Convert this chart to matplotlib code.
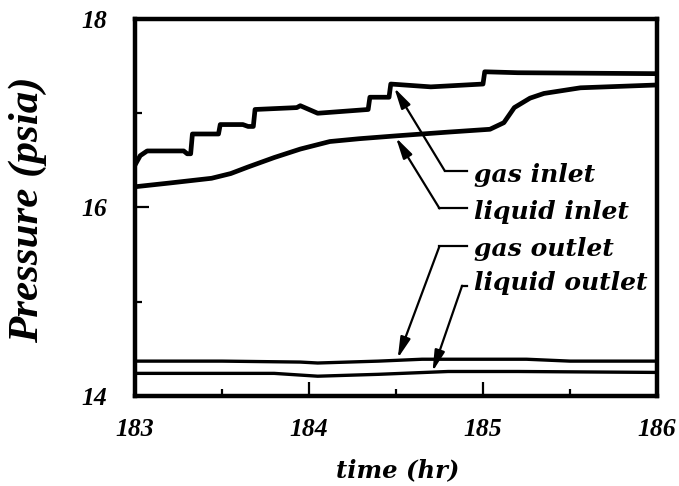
import numpy as np
import matplotlib
matplotlib.use("Agg")
import matplotlib.pyplot as plt
from matplotlib.ticker import MultipleLocator

# readings from the reference picture (time in hr, pressure in psia)
gas_in_t = [183.00, 183.03, 183.07, 183.28, 183.30, 183.32, 183.33, 183.48, 183.49, 183.62,
            183.65, 183.68, 183.69, 183.93, 183.95, 184.05, 184.34, 184.35, 184.46, 184.47,
            184.70, 185.00, 185.01, 185.20, 186.00]
gas_in_p = [16.45, 16.55, 16.60, 16.60, 16.57, 16.57, 16.78, 16.78, 16.88, 16.88,
            16.86, 16.86, 17.04, 17.06, 17.08, 17.00, 17.04, 17.17, 17.17, 17.31,
            17.28, 17.31, 17.44, 17.43, 17.42]

liq_in_t = [183.00, 183.20, 183.44, 183.55, 183.65, 183.80, 183.95, 184.12, 184.29, 184.50,
            184.80, 185.04, 185.12, 185.18, 185.27, 185.35, 185.56, 186.00]
liq_in_p = [16.22, 16.26, 16.31, 16.36, 16.43, 16.53, 16.62, 16.70, 16.73, 16.76,
            16.80, 16.83, 16.90, 17.06, 17.16, 17.21, 17.27, 17.30]

gas_out_t = [183.00, 183.50, 183.95, 184.05, 184.40, 184.65, 185.25, 185.50, 186.00]
gas_out_p = [14.37, 14.37, 14.36, 14.35, 14.37, 14.39, 14.39, 14.37, 14.37]

liq_out_t = [183.00, 183.80, 184.05, 184.40, 184.80, 185.20, 186.00]
liq_out_p = [14.24, 14.24, 14.21, 14.23, 14.26, 14.26, 14.25]

# callouts: label text, baseline, leg height, arrow tip and bend
label_names = ["gas inlet", "liquid inlet", "gas outlet", "liquid outlet"]
label_base = [16.27, 15.88, 15.49, 15.12]
leg_y = [16.39, 15.99, 15.59, 15.17]
tip_x = [184.49, 184.50, 184.51, 184.71]
tip_y = [17.27, 16.74, 14.40, 14.26]
bend_x = [184.78, 184.75, 184.75, 184.88]
leg_end = 184.91
text_x = 184.95

font = dict(family="DejaVu Serif", weight="bold", style="italic")

fig = plt.figure(figsize=(6.79, 4.86), dpi=100)
ax = fig.add_axes([0.1988, 0.1852, 0.7688, 0.7757])

ax.plot(gas_in_t, gas_in_p, color="black", lw=3.4)
ax.plot(liq_in_t, liq_in_p, color="black", lw=3.4)
ax.plot(gas_out_t, gas_out_p, color="black", lw=2.4)
ax.plot(liq_out_t, liq_out_p, color="black", lw=2.4)

for name, tb, ly, tx, ty, bx in zip(label_names, label_base, leg_y, tip_x, tip_y, bend_x):
    ax.plot([bx, leg_end], [ly, ly], color="black", lw=1.6)
    ax.annotate("", xy=(tx, ty), xytext=(bx, ly),
                arrowprops=dict(arrowstyle="-|>,head_length=0.9,head_width=0.22",
                                color="black", lw=1.6, mutation_scale=14,
                                shrinkA=0, shrinkB=0))
    ax.text(text_x, tb, name, ha="left", va="baseline", fontsize=18, **font)

ax.set_xlim(183, 186)
ax.set_ylim(14, 18)
ax.xaxis.set_minor_locator(MultipleLocator(0.5))
ax.yaxis.set_minor_locator(MultipleLocator(1))
ax.tick_params(which="both", direction="in", width=1.6)
ax.tick_params(axis="y", pad=20)
ax.tick_params(axis="x", pad=16)
ax.tick_params(which="major", length=10)
ax.tick_params(which="minor", length=5)
ax.set_xticks([183, 184, 185, 186], ["183", "184", "185", "186"])
ax.set_yticks([14, 16, 18], ["14", "16", "18"])
for lab in ax.get_xticklabels() + ax.get_yticklabels():
    lab.set_fontfamily("Liberation Serif")
    lab.set_fontweight("bold")
    lab.set_fontstyle("italic")
    lab.set_fontsize(18.5)
for sp in ax.spines.values():
    sp.set_linewidth(3.2)

ax.set_xlabel("time (hr)", fontsize=17.5, va="center", **font)
ax.set_ylabel("Pressure (psia)", fontsize=31, va="center",
              family="Liberation Serif", weight="bold", style="italic")
ax.xaxis.set_label_coords(0.504, -0.196)
ax.yaxis.set_label_coords(-0.205, 0.493)

fig.savefig("out.png", dpi=100)
